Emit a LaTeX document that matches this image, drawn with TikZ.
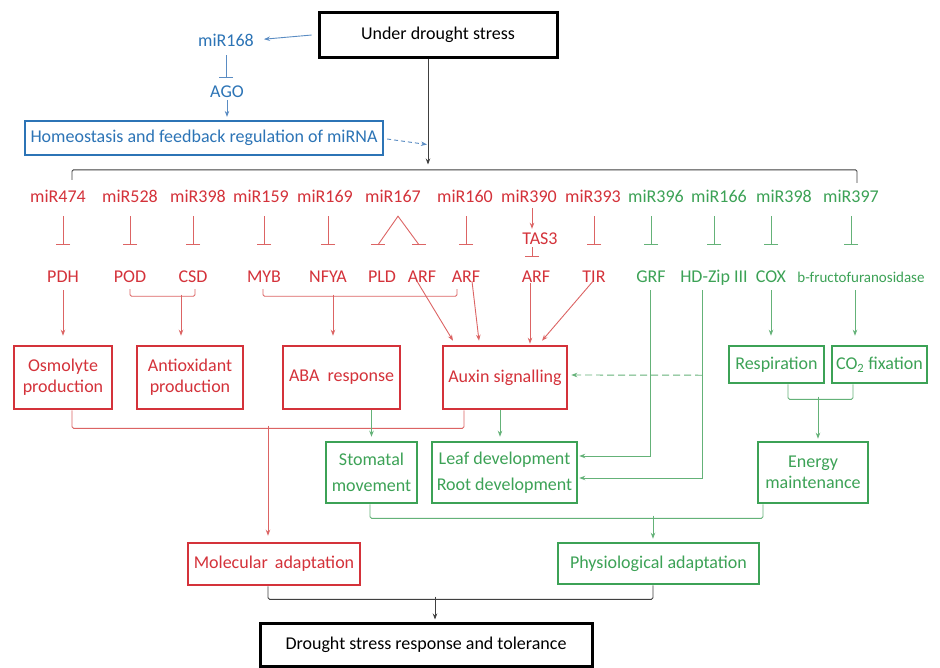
\documentclass[tikz,border=0pt]{standalone}
\usepackage{fontspec}
\setmainfont{Carlito}
\usetikzlibrary{arrows.meta,calc}
\definecolor{cR}{RGB}{212,50,58}
\definecolor{cRl}{RGB}{220,100,100}
\definecolor{cG}{RGB}{60,162,86}
\definecolor{cGl}{RGB}{100,178,120}
\definecolor{cB}{RGB}{44,116,182}
\definecolor{cBl}{RGB}{90,140,195}
\begin{document}
\begin{tikzpicture}[x=1pt,y=-1pt,
  lbl/.style={inner sep=1pt,text height=12pt,text depth=0pt,font=\fontsize{18}{21}\selectfont},
  lR/.style={lbl,text=cR}, lG/.style={lbl,text=cG}, lB/.style={lbl,text=cB},
  bx/.style={line width=2.6pt,align=center,inner sep=0pt,font=\fontsize{18}{21}\selectfont},
  bR/.style={bx,draw=cR,text=cR}, bG/.style={bx,draw=cG,text=cG},
  bB/.style={bx,draw=cB,text=cB,line width=2.2pt},
  bK/.style={bx,draw=black,text=black,line width=3pt},
  ar/.style={-{Stealth[length=6pt,width=4.5pt]},line width=0.9pt},
  arR/.style={ar,draw=cRl}, arG/.style={ar,draw=cGl}, arB/.style={ar,draw=cBl}, arK/.style={ar,draw=black!75},
  ih/.style={-{Bar[width=14pt]},line width=0.9pt},
  ihR/.style={ih,draw=cRl,shorten <=13pt,shorten >=24pt},
  ihG/.style={ih,draw=cGl,shorten <=13pt,shorten >=24pt},
  ln/.style={line width=0.9pt,rounded corners=1.5pt},
  lnR/.style={ln,draw=cRl}, lnG/.style={ln,draw=cGl}, lnK/.style={ln,draw=black!75},
]
\useasboundingbox[fill=white] (0,0) rectangle (940,667);

% ---- top ----
\node[bK,minimum width=238pt,minimum height=45pt] (under) at (438,34.5) {Under drought stress};
\node[lB] (m168) at (226,40) {miR168};
\node[lB] (ago) at (227,91.5) {AGO};
\node[bB,minimum width=358pt,minimum height=34pt] (homeo) at (204,138) {Homeostasis and feedback regulation of miRNA};

\draw[arB,shorten <=6pt,shorten >=9pt] (under.west) -- (m168.east);
\draw[ih,draw=cBl,shorten <=8pt,shorten >=6.5pt] (m168.south) -- (m168.south |- ago.north);
\draw[arB,shorten <=1.5pt,shorten >=3pt] (ago.south) -- (ago.south |- homeo.north);
\draw[arB,dash pattern=on 4pt off 3pt] ($(homeo.east)+(3,1)$) -- ($(under.south)+(-11,86)$);
\draw[arK] ($(under.south)+(-10,0)$) -- ($(under.south)+(-10,106)$);

% ---- miRNA row ----
\node[lR] (m474) at (58,196) {miR474};
\node[lR] (m528) at (130,196) {miR528};
\node[lR] (m398) at (198,196) {miR398};
\node[lR] (m159) at (261,196) {miR159};
\node[lR] (m169) at (325,196) {miR169};
\node[lR] (m167) at (393,196) {miR167};
\node[lR] (m160) at (465,196) {miR160};
\node[lR] (m390) at (529,196) {miR390};
\node[lR] (m393) at (593,196) {miR393};
\node[lG] (m396) at (656,196) {miR396};
\node[lG] (m166) at (719,196) {miR166};
\node[lG] (m398g) at (784,196) {miR398};
\node[lG] (m397) at (851,196) {miR397};

\draw[lnK] ($(m474.north)+(14,-9)$) |- ($(m397.north)+(6,-19)$) -- ($(m397.north)+(6,-6)$);

% ---- targets ----
\node[lR] (tas3) at (540,238) {TAS3};
\node[lR] (pdh) at (63,276) {PDH};
\node[lR] (pod) at (130,276) {POD};
\node[lR] (csd) at (193,276) {CSD};
\node[lR] (myb) at (264,276) {MYB};
\node[lR] (nfya) at (328,276) {NFYA};
\node[lR] (pld) at (382,276) {PLD};
\node[lR] (arfa) at (422,276) {ARF};
\node[lR] (arfb) at (466,276) {ARF};
\node[lR] (arfc) at (536,276) {ARF};
\node[lR] (tir) at (594,276) {TIR};
\node[lG] (grf) at (651,276) {GRF};
\node[lG] (hdz) at (714,276) {HD-Zip III};
\node[lG] (cox) at (771,276) {COX};
\node[lG,font=\fontsize{15}{18}\selectfont] (bfr) at (861,276) {b-fructofuranosidase};

% inhibitions
\draw[ihR] (m474.south -| pdh) -- (pdh.north);
\draw[ihR] (m528.south -| pod) -- (pod.north);
\draw[ihR] (m398.south -| csd) -- (csd.north);
\draw[ihR] (m159.south -| myb) -- (myb.north);
\draw[ihR] (m169.south -| nfya) -- (nfya.north);
\draw[ihR] (m160.south -| arfb) -- (arfb.north);
\draw[ihR] (m393.south -| tir) -- (tir.north);
\draw[ihG] (m396.south -| grf) -- (grf.north);
\draw[ihG] (m166.south -| hdz) -- (hdz.north);
\draw[ihG] (m398g.south -| cox) -- (cox.north);
\draw[ihG] (m397.south) -- (m397.south |- bfr.north);
% miR167 forked inhibition
\draw[line width=0.9pt,draw=cRl] ($(pld.north)+(-4,-24)$) coordinate (l1) -- ($(m167.south)+(5,13)$) -- ($(arfa.north)+(-3,-24)$) coordinate (l2);
\draw[line width=0.9pt,draw=cRl] ($(l1)+(-7,0)$) -- ($(l1)+(7,0)$);
\draw[line width=0.9pt,draw=cRl] ($(l2)+(-7,0)$) -- ($(l2)+(7,0)$);
% miR390 -> TAS3 -| ARF
\draw[arR,shorten <=5pt,shorten >=2pt] ($(m390.south)+(3,0)$) -- ($(m390.south |- tas3.north)+(3,0)$);
\draw[ih,draw=cRl] ($(tas3.south)+(-8,2)$) -- ($(tas3.south)+(-8,12)$);

% ---- process boxes ----
\node[bR,minimum width=98pt,minimum height=63pt] (osmo) at (63,377.5) {Osmolyte\\production};
\node[bR,minimum width=106pt,minimum height=63pt] (antiox) at (190,377.5) {Antioxidant\\production};
\node[bR,minimum width=117pt,minimum height=63pt] (aba) at (341.5,377.5) {ABA\hspace{4pt} response};
\node[bR,minimum width=124pt,minimum height=63pt] (auxin) at (505,377.5) {Auxin signalling};
\node[bG,minimum width=95pt,minimum height=37pt] (resp) at (776.5,364.5) {Respiration};
\node[bG,minimum width=95pt,minimum height=37pt] (co2) at (879.5,364.5) {CO\textsubscript{2} fixation};
\node[bG,minimum width=91pt,minimum height=61pt,font=\fontsize{18}{26}\selectfont] (stom) at (371.5,472.5) {Stomatal\\movement};
\node[bG,minimum width=145pt,minimum height=61pt,font=\fontsize{18}{26}\selectfont] (leaf) at (504.5,472.5) {Leaf development\\Root development};
\node[bG,minimum width=110pt,minimum height=61pt] (energy) at (813,472.5) {Energy\\maintenance};
\node[bR,minimum width=172pt,minimum height=42pt] (molec) at (274,564) {Molecular\hspace{3pt} adaptation};
\node[bG,minimum width=201pt,minimum height=41pt] (physio) at (658.5,563.5) {Physiological adaptation};
\node[bK,minimum width=332pt,minimum height=43pt] (drought) at (426,644.5) {Drought stress response and tolerance};

% targets -> processes
\draw[arR,shorten <=7pt,shorten >=9pt] (pdh.south) -- (pdh.south |- osmo.north);
\draw[lnR] ($(pod.south)+(0,6)$) -- ($(pod.south)+(0,13)$) -| ($(csd.south)+(2,6)$);
\draw[arR,shorten >=9pt] ($(antiox.north)+(-9,-50)$) -- ($(antiox.north)+(-9,0)$);
\draw[lnR] ($(myb.south)+(-1,6)$) -- ($(myb.south)+(-1,13)$) -| ($(arfb.south)+(-9,6)$);
\draw[arR,shorten >=9pt] ($(aba.north)+(-8.5,-50)$) -- ($(aba.north)+(-8.5,0)$);
\draw[arR] ($(arfa.south)+(-5,-2)$) -- ($(auxin.north)+(-52,-4)$);
\draw[arR] ($(arfb.south)+(6,-2)$) -- ($(auxin.north)+(-26,-4)$);
\draw[arR] ($(arfc.south)+(-6,0)$) -- ($(auxin.north)+(25,-1)$);
\draw[arR] ($(tir.south)+(-1,-2)$) -- ($(auxin.north)+(37,-4)$);
\draw[arG] ($(grf.south)+(-1,7)$) |- ($(leaf.east)+(1,-16.5)$);
\draw[arG] ($(hdz.south)+(-12,7)$) |- ($(leaf.east)+(1,5.5)$);
\draw[arG,dash pattern=on 7pt off 4pt] ($(hdz.south)+(-12,92)$) -- ($(auxin.east)+(3,-2.5)$);
\draw[arG,shorten <=7pt,shorten >=9pt] (cox.south) -- (cox.south |- resp.north);
\draw[arG,shorten <=7pt,shorten >=9pt] ($(m397.south |- bfr.south)+(4,0)$) -- ($(m397.south |- co2.north)+(4,0)$);

% processes -> outcomes
\draw[lnG] ($(resp.south)+(11.5,0)$) -- ($(resp.south)+(11.5,15)$) -| ($(co2.south)+(-26.5,0)$);
\draw[arG] ($(energy.north)+(5,-44)$) -- ($(energy.north)+(5,-2)$);
\draw[lnR] ($(osmo.south)+(9,0)$) -- ($(osmo.south)+(9,18)$) -| ($(auxin.south)+(-41,0)$);
\draw[arR] ($(molec.north)+(-6,-116)$) -- ($(molec.north)+(-6,-6)$);
\draw[arG,shorten >=4pt] (aba.south -| stom) -- (stom.north);
\draw[arG] ($(auxin.south)+(-5,0)$) -- ($(leaf.north)+(-4.5,-4)$);
\draw[lnG] ($(stom.south)+(-1.5,0)$) -- ($(stom.south)+(-1.5,14)$) -| ($(energy.south)+(-50,0)$);
\draw[arG] ($(physio.north)+(-5.5,-26)$) -- ($(physio.north)+(-5.5,-3)$);
\draw[lnK] ($(molec.south)+(-6,0)$) -- ($(molec.south)+(-6,13)$) -| ($(physio.south)+(-5.5,0)$);
\draw[arK] ($(drought.north)+(9,-25)$) -- ($(drought.north)+(9,-2)$);
\end{tikzpicture}
\end{document}
